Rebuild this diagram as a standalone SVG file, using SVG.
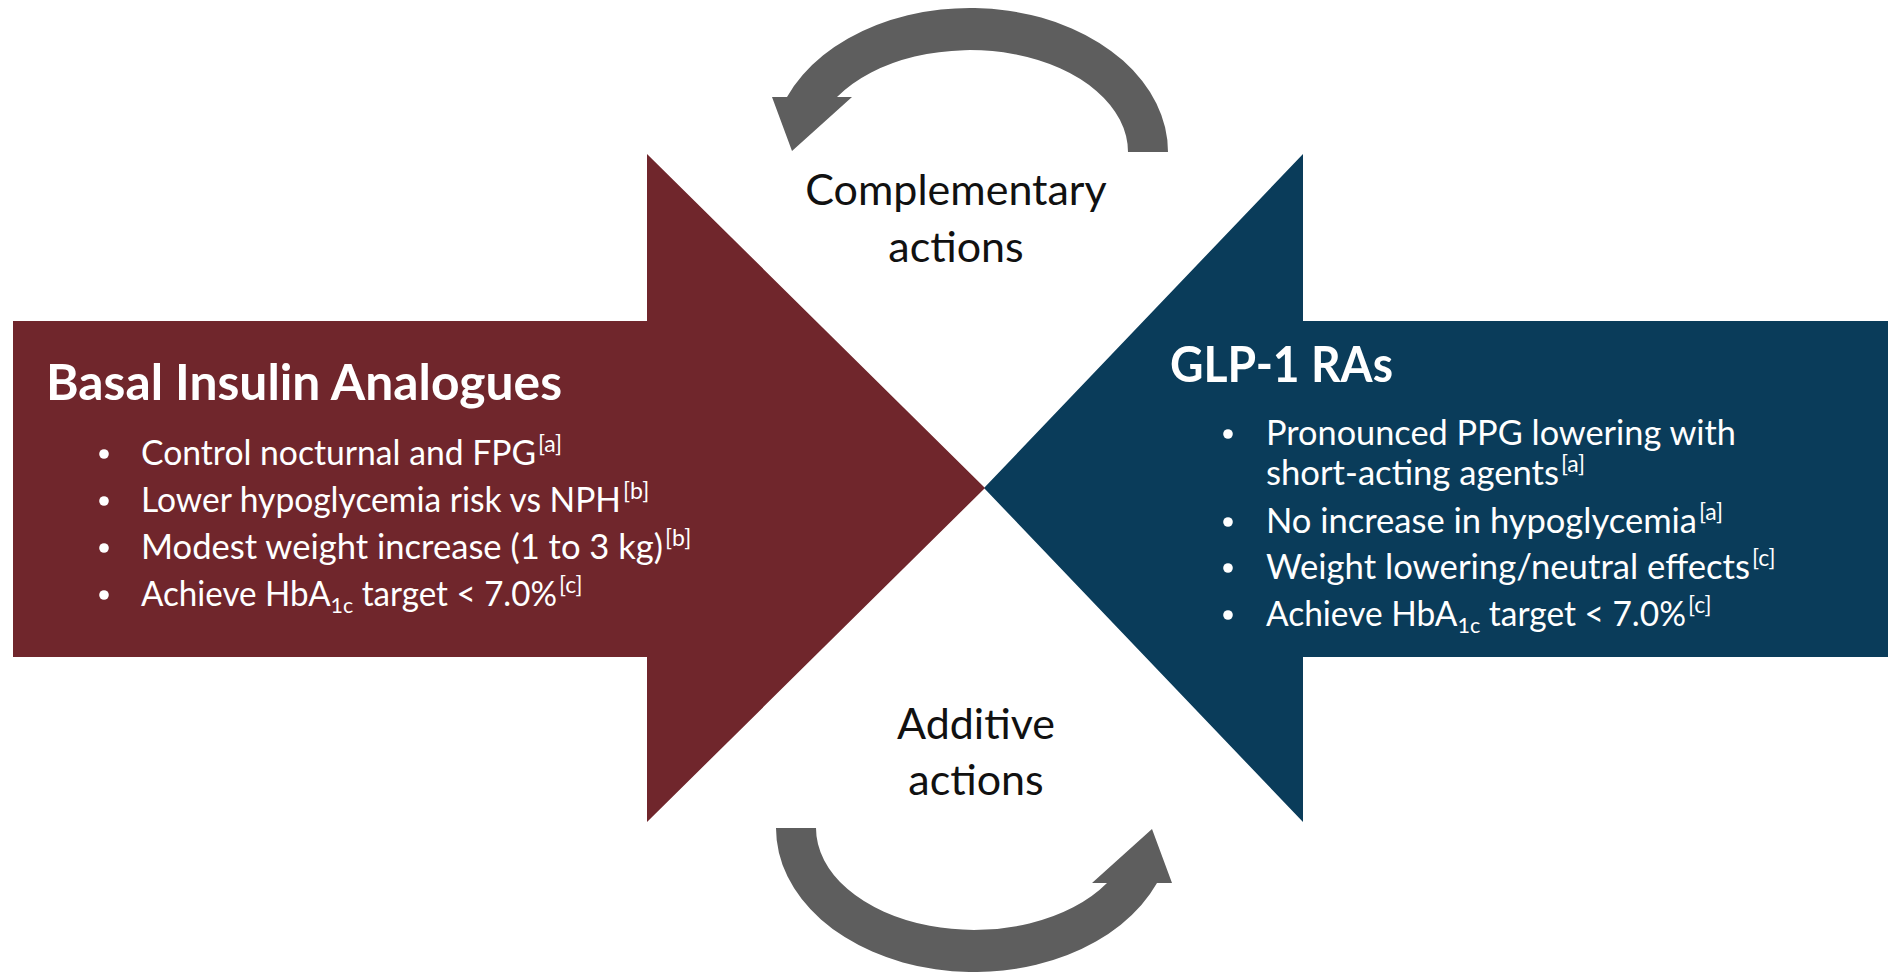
<svg xmlns="http://www.w3.org/2000/svg" width="1888" height="972" viewBox="0 0 1888 972">
  <style>
    .bg { fill: #ffffff; }
    .maroon { fill: #70262c; }
    .navy { fill: #0a3c5a; }
    .cycle { fill: #5e5e5e; }
    .title { font-family: Lato, "Liberation Sans", sans-serif; font-weight: 700; font-size: 50px; fill: #ffffff; }
    .item { font-family: Lato, "Liberation Sans", sans-serif; font-size: 34px; fill: #ffffff; }
    .sup { font-family: Lato, "Liberation Sans", sans-serif; font-size: 23px; fill: #ffffff; }
    .dot { fill: #ffffff; }
    .label { font-family: Lato, "Liberation Sans", sans-serif; font-size: 43px; fill: #111111; text-anchor: middle; }
  </style>
  <defs>
    <!-- curved grey cycle arrow: tail at right, head pointing down-left -->
    <path id="cycleArrow" class="cycle"
          d="M 1168 152 A 198 144 0 0 0 787 97 L 772 97 L 792 151 L 852 97 L 837 97 A 158 102 0 0 1 1128 152 Z"/>
  </defs>

  <rect class="bg" x="0" y="0" width="1888" height="972"/>

  <!-- GLP-1 receptor agonists block arrow (points left) -->
  <g id="glp1">
    <polygon class="navy" points="1888,321 1303,321 1303,154 984,488 1303,822 1303,657 1888,657"/>
    <text class="title" x="1170" y="382" textLength="223" lengthAdjust="spacingAndGlyphs">GLP-1 RAs</text>
    <circle class="dot" cx="1228" cy="434" r="4.8"/>
    <text class="item" x="1266" y="445" textLength="470" lengthAdjust="spacingAndGlyphs">Pronounced PPG lowering with</text>
    <text class="item" x="1266" y="485" textLength="293" lengthAdjust="spacingAndGlyphs">short-acting agents</text>
    <text class="sup" x="1561" y="472">[a]</text>
    <circle class="dot" cx="1228" cy="522" r="4.8"/>
    <text class="item" x="1266" y="533" textLength="431" lengthAdjust="spacingAndGlyphs">No increase in hypoglycemia</text>
    <text class="sup" x="1699" y="520">[a]</text>
    <circle class="dot" cx="1228" cy="568" r="4.8"/>
    <text class="item" x="1266" y="579" textLength="484" lengthAdjust="spacingAndGlyphs">Weight lowering/neutral effects</text>
    <text class="sup" x="1752" y="566">[c]</text>
    <circle class="dot" cx="1228" cy="615" r="4.8"/>
    <text class="item" x="1266" y="626" textLength="420" lengthAdjust="spacingAndGlyphs">Achieve HbA<tspan font-size="22" dy="7">1c</tspan><tspan dy="-7"> target &lt; 7.0%</tspan></text>
    <text class="sup" x="1688" y="613">[c]</text>
  </g>

  <!-- Basal insulin block arrow (points right) -->
  <g id="basal">
    <polygon class="maroon" points="13,321 647,321 647,154 985,488 647,822 647,657 13,657"/>
    <text class="title" x="46" y="400" textLength="516" lengthAdjust="spacingAndGlyphs">Basal Insulin Analogues</text>
    <circle class="dot" cx="104" cy="454" r="4.8"/>
    <text class="item" x="141" y="465" textLength="395" lengthAdjust="spacingAndGlyphs">Control nocturnal and FPG</text>
    <text class="sup" x="538" y="452">[a]</text>
    <circle class="dot" cx="104" cy="501" r="4.8"/>
    <text class="item" x="141" y="512" textLength="480" lengthAdjust="spacingAndGlyphs">Lower hypoglycemia risk vs NPH</text>
    <text class="sup" x="623" y="499">[b]</text>
    <circle class="dot" cx="104" cy="548" r="4.8"/>
    <text class="item" x="141" y="559" textLength="522" lengthAdjust="spacingAndGlyphs">Modest weight increase (1 to 3 kg)</text>
    <text class="sup" x="665" y="546">[b]</text>
    <circle class="dot" cx="104" cy="595" r="4.8"/>
    <text class="item" x="141" y="606" textLength="416" lengthAdjust="spacingAndGlyphs">Achieve HbA<tspan font-size="22" dy="7">1c</tspan><tspan dy="-7"> target &lt; 7.0%</tspan></text>
    <text class="sup" x="559" y="593">[c]</text>
  </g>

  <!-- interaction cycle arrows -->
  <g id="connectors">
    <use href="#cycleArrow"/>
    <use href="#cycleArrow" transform="rotate(180 972 490)"/>
  </g>

  <g id="complementary">
    <text class="label" x="956" y="205">Complementary</text>
    <text class="label" x="956" y="262">actions</text>
  </g>

  <g id="additive">
    <text class="label" x="976" y="739">Additive</text>
    <text class="label" x="976" y="795">actions</text>
  </g>
</svg>
